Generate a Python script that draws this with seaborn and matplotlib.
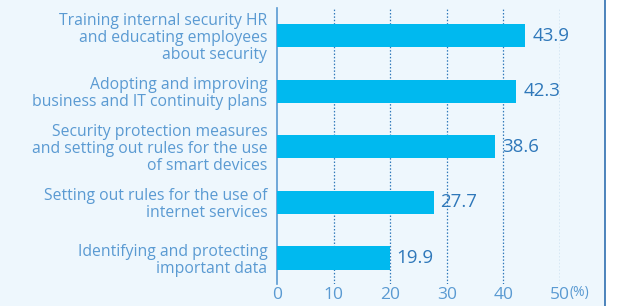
import matplotlib
matplotlib.use("Agg")
import matplotlib.pyplot as plt
import seaborn as sns
import pandas as pd
from matplotlib.patches import Rectangle

categories = [
    "Training internal security HR\nand educating employees\nabout security",
    "Adopting and improving\nbusiness and IT continuity plans",
    "Security protection measures\nand setting out rules for the use\nof smart devices",
    "Setting out rules for the use of\ninternet services",
    "Identifying and protecting\nimportant data",
]
values = [43.9, 42.3, 38.6, 27.7, 19.9]
xticks = [0, 10, 20, 30, 40, 50]

BAR = "#00B9EF"
LABEL = "#5A9AD2"
VALUE = "#2F78BA"
BG = "#EEF7FD"
EDGE = "#2F6FB0"


def main():
    sns.set_style("white")
    plt.rcParams["font.family"] = ["Open Sans", "DejaVu Sans"]

    df = pd.DataFrame({"item": categories, "pct": values})

    fig = plt.figure(figsize=(6.27, 3.06), dpi=100)
    fig.patch.set_facecolor("white")
    fig.add_artist(Rectangle((0, 0), 605 / 627, 1, transform=fig.transFigure,
                             facecolor=BG, edgecolor="none", zorder=-10))
    fig.add_artist(plt.Line2D([605 / 627, 605 / 627], [0, 1], color=EDGE, lw=1.2,
                              transform=fig.transFigure, zorder=-9))

    ax = fig.add_axes([277 / 627, 1 - 284 / 306, 283 / 627, 276 / 306])
    ax.set_zorder(1)
    ax.set_facecolor("none")
    sns.barplot(data=df, x="pct", y="item", color=BAR, width=0.42, ax=ax,
                saturation=1, linewidth=0, zorder=3)

    ax.set_xlim(0, 50)
    ax.set_ylim(4.47, -0.5)
    ax.set_xticks(xticks)
    ax.set_xticklabels([str(t) for t in xticks], color=LABEL, fontsize=12.5)
    ax.tick_params(axis="x", length=0, pad=2)
    ax.tick_params(axis="y", length=0, pad=7)
    for lab in ax.get_yticklabels():
        lab.set_color(LABEL)
        lab.set_fontsize(11.3)
        lab.set_linespacing(1.07)
        lab.set_horizontalalignment("right")
        lab.set_multialignment("right")
    ax.set_xlabel("")
    ax.set_ylabel("")

    for x in xticks[1:]:
        ax.axvline(x, color=VALUE, lw=0.9, ls=(0, (1.2, 1.5)), zorder=1)

    for s in ["top", "right", "bottom"]:
        ax.spines[s].set_visible(False)
    ax.spines["left"].set_color(LABEL)
    ax.spines["left"].set_linewidth(1.2)

    for i, v in enumerate(values):
        ax.text(v + 1.2, i, f"{v:.1f}", va="center", ha="left",
                color=VALUE, fontsize=13.5, zorder=4)

    ax.text(51.6, -0.005, "(%)", transform=ax.get_xaxis_transform(),
            color=LABEL, fontsize=10, va="top", ha="left")

    fig.savefig("out.png", dpi=100, facecolor=fig.get_facecolor())


if __name__ == "__main__":
    main()
